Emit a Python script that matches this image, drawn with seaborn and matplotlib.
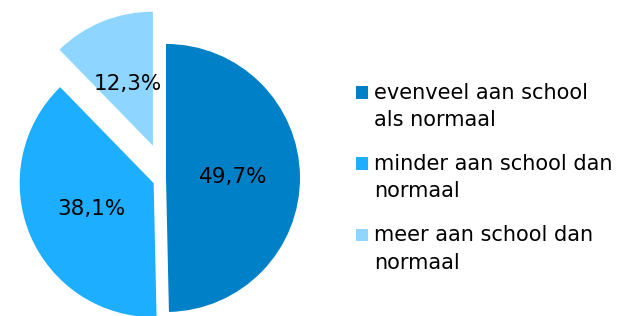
import matplotlib
matplotlib.use("Agg")
import matplotlib.pyplot as plt
import seaborn as sns

categories = ["evenveel aan school\nals normaal",
              "minder aan school dan\nnormaal",
              "meer aan school dan\nnormaal"]
values = [49.7, 38.1, 12.3]
colors = ["#0080C6", "#1EAEFF", "#8ED6FF"]
explode = [0.0, 0.1, 0.26]

sns.set_style("white")
plt.rcParams['font.family'] = ['DejaVu Sans']

fig = plt.figure(figsize=(6.21, 3.16), dpi=100)
ax = fig.add_axes([0, 0, 332 / 621, 1])

total = sum(values)
wedges, texts, autotexts = ax.pie(
    values, colors=colors, explode=explode, startangle=90, counterclock=False,
    autopct=lambda p: f"{p * total / 100:.1f}%".replace(".", ","),
    pctdistance=0.5, wedgeprops=dict(linewidth=0),
    textprops=dict(fontsize=15.5, color="black"))

ax.set_aspect("auto")
ax.set_xlim(-1.239, 1.239)
ax.set_ylim(-1.03, 1.328)
ax.axis("off")

leg = fig.legend(wedges, categories, loc="upper left", bbox_to_anchor=(356 / 621, 1 - 83 / 316),
                 frameon=False, fontsize=15, handlelength=0.58, handleheight=0.58,
                 handletextpad=0.3, labelspacing=1.15, borderaxespad=0, borderpad=0,
                 labelcolor="black")
for t in leg.get_texts():
    t.set_linespacing(1.45)
# put the square next to the first line of each label
for h in leg.legend_handles:
    h.set_y(h.get_y() + 10.5)

fig.savefig("out.png", dpi=100)
